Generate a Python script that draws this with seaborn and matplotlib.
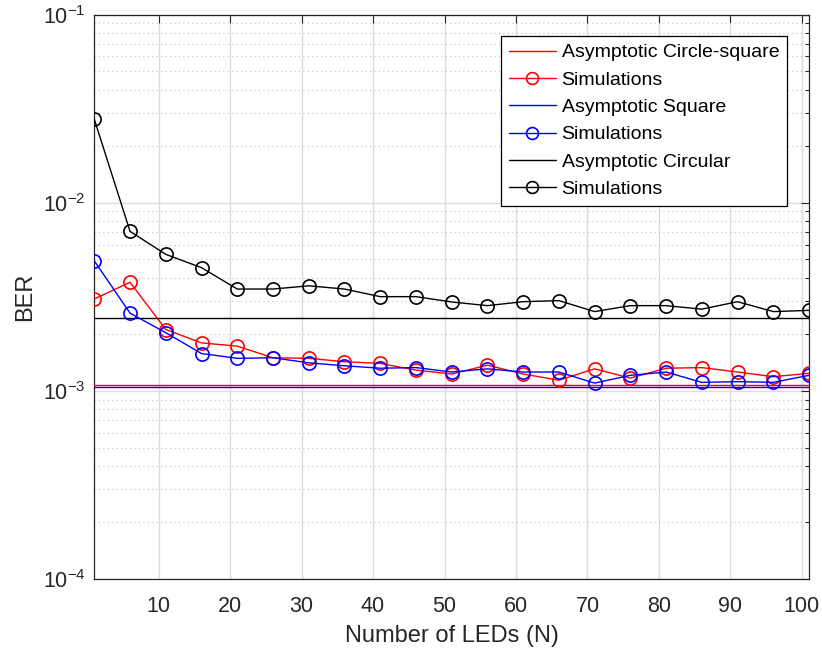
import numpy as np
import pandas as pd
import matplotlib
matplotlib.use("Agg")
import matplotlib.pyplot as plt
import seaborn as sns
from matplotlib.ticker import LogLocator, NullFormatter, FixedLocator

# Number of LEDs
n_leds = [1, 6, 11, 16, 21, 26, 31, 36, 41, 46, 51, 56, 61, 66, 71, 76, 81, 86, 91, 96, 101]

# Simulated BER per LED arrangement
ber_circle_square = [0.00308, 0.00378, 0.00212, 0.00180, 0.00173, 0.00150, 0.00149, 0.00143,
                     0.00140, 0.00129, 0.00123, 0.00137, 0.00123, 0.00114, 0.00131, 0.00117,
                     0.00132, 0.00133, 0.00126, 0.00119, 0.00124]
ber_square = [0.00491, 0.00259, 0.00204, 0.00158, 0.00149, 0.00150, 0.00141, 0.00136,
              0.00132, 0.00133, 0.00126, 0.00131, 0.00126, 0.00126, 0.00110, 0.00121,
              0.00126, 0.00111, 0.00112, 0.00111, 0.00121]
ber_circular = [0.0278, 0.00705, 0.00532, 0.00452, 0.00348, 0.00348, 0.00362, 0.00348,
                0.00317, 0.00317, 0.00297, 0.00284, 0.00298, 0.00302, 0.00264, 0.00284,
                0.00284, 0.00272, 0.00298, 0.00264, 0.00268]

# Asymptotic BER levels
asym_circle_square = 0.00108
asym_square = 0.00105
asym_circular = 0.00245

df = pd.DataFrame({
    "N": n_leds * 3,
    "BER": ber_circle_square + ber_square + ber_circular,
    "layout": ["cs"] * len(n_leds) + ["sq"] * len(n_leds) + ["ci"] * len(n_leds),
})

sns.set_style("white")
plt.rcParams["font.family"] = ["Liberation Sans", "DejaVu Sans"]
plt.rcParams["mathtext.fontset"] = "custom"
plt.rcParams["mathtext.rm"] = "Liberation Sans"
plt.rcParams["mathtext.it"] = "Liberation Sans:italic"
plt.rcParams["mathtext.bf"] = "Liberation Sans:bold"

text_col = "#262626"
fig = plt.figure(figsize=(8.22, 6.54), dpi=100)
ax = fig.add_axes([94.3 / 822, 1 - 579 / 654, (809 - 94.3) / 822, (579 - 14.7) / 654])

colors = {"cs": "#ff0000", "sq": "#0000ff", "ci": "#000000"}
asym = {"cs": asym_circle_square, "sq": asym_square, "ci": asym_circular}
names = {"cs": "Asymptotic Circle-square", "sq": "Asymptotic Square", "ci": "Asymptotic Circular"}

for key in ["cs", "sq", "ci"]:
    ax.axhline(asym[key], color=colors[key], lw=1.0, label=names[key], zorder=3)
    sns.lineplot(data=df[df["layout"] == key], x="N", y="BER", ax=ax,
                 color=colors[key], lw=1.0, marker="o", markersize=9.5,
                 markerfacecolor="none", markeredgecolor=colors[key],
                 markeredgewidth=1.2, label="Simulations", zorder=4)

ax.set_yscale("log")
ax.set_xlim(1, 101)
ax.set_ylim(1e-4, 1e-1)
ax.xaxis.set_major_locator(FixedLocator(np.arange(10, 101, 10)))
ax.yaxis.set_major_locator(LogLocator(base=10, numticks=10))
ax.yaxis.set_minor_locator(LogLocator(base=10, subs=np.arange(2, 10), numticks=10))
ax.yaxis.set_minor_formatter(NullFormatter())

ax.grid(True, which="major", color="#dcdcdc", lw=1.0, ls="-", zorder=0)
ax.grid(True, which="minor", axis="y", color="#c0c0c0", lw=0.8, ls=(0, (1, 3)), zorder=0)
ax.set_axisbelow(True)

ax.tick_params(which="both", direction="in", top=True, right=True, colors=text_col,
               labelsize=15.5, width=0.8)
ax.tick_params(which="major", length=6)
ax.tick_params(which="minor", length=3)
ax.tick_params(axis="x", pad=12)
ax.tick_params(axis="y", pad=6)
for s in ax.spines.values():
    s.set_color(text_col)
    s.set_linewidth(0.9)

ax.set_xlabel("Number of LEDs (N)", fontsize=17, color=text_col, labelpad=6)
ax.set_ylabel("BER", fontsize=17, color=text_col, labelpad=5)

handles, labels = ax.get_legend_handles_labels()
leg = ax.legend(handles, labels, loc="upper right", bbox_to_anchor=(787 / 822, 1 - 36 / 654),
                bbox_transform=fig.transFigure, fontsize=14, frameon=True, fancybox=False,
                framealpha=1, edgecolor="#000000", handlelength=2.4, handletextpad=0.3,
                labelspacing=0.5, borderpad=0.4, borderaxespad=0, markerscale=0.9)
leg.get_frame().set_linewidth(0.9)
for t in leg.get_texts():
    t.set_color("#000000")

fig.savefig("out.png", dpi=100)
